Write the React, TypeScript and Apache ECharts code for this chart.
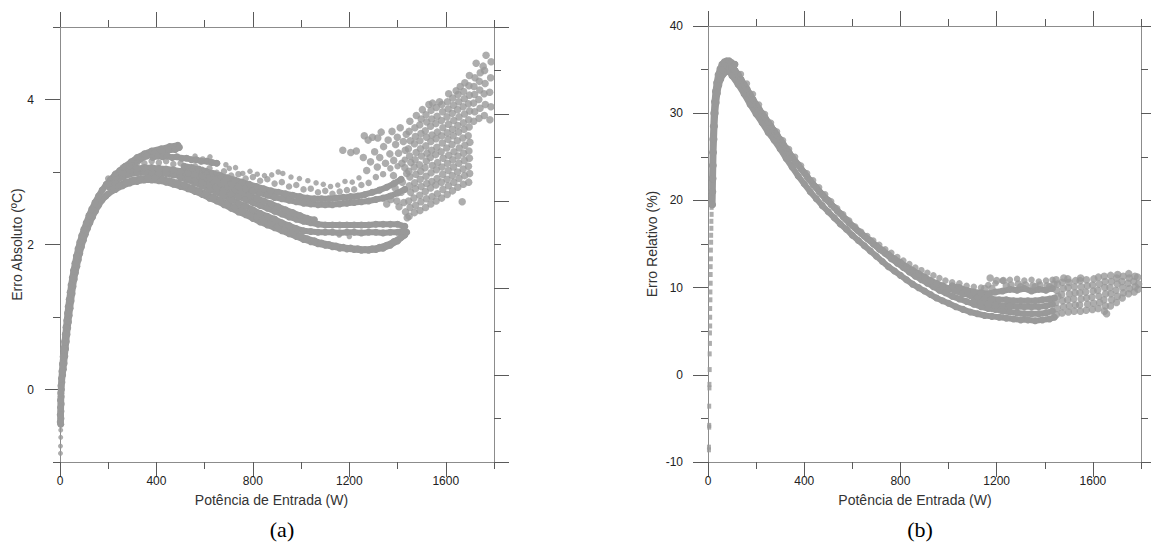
import React, { useEffect, useRef } from 'react';
import * as echarts from 'echarts';

// ---------- texts / ticks ----------
const X_LABEL = 'Potência de Entrada (W)';
const Y_LABEL_A = 'Erro Absoluto (ºC)';
const Y_LABEL_B = 'Erro Relativo (%)';
const PANEL_A = '(a)';
const PANEL_B = '(b)';
const xMajorTicks = [0, 400, 800, 1200, 1600];
const absMajorTicks = [0, 2, 4];

// ---------- (a) Erro Absoluto (x = W, y = ºC) ----------
const absStart = [[2,-0.88],[2,-0.78],[3,-0.66],[3,-0.56]];
const absRiseOuter = [[3,-0.48],[4,-0.4],[4,-0.3],[5,-0.2],[5,-0.1],[6,0],[8,0.1],[11,0.2],[14,0.28],[17,0.36],[20,0.46],[23,0.56],[26,0.66],[29,0.76],[32,0.85],[35,0.93],[38,1.02],[42,1.12],[46,1.22],[50,1.32],[54,1.42],[59,1.52],[64,1.61],[70,1.7],[76,1.79],[82,1.88],[89,1.97],[97,2.06],[105,2.14],[114,2.22],[124,2.3],[135,2.38],[147,2.46],[160,2.54],[174,2.61],[190,2.67]];
const absRiseInner = [[1,-0.45],[1,-0.35],[2,-0.25],[2,-0.15],[3,-0.05],[4,0.05],[6,0.15],[8,0.25],[10,0.35],[13,0.45],[16,0.56],[19,0.66],[22,0.76],[25,0.86],[28,0.95],[31,1.05],[34,1.14],[38,1.24],[42,1.34],[46,1.44],[51,1.54],[56,1.64],[62,1.74],[68,1.84],[75,1.94],[82,2.03],[90,2.12],[99,2.21],[109,2.3],[120,2.4],[132,2.49],[145,2.58],[160,2.67],[175,2.75],[192,2.83],[210,2.9],[228,2.96],[248,3.02],[270,3.08],[295,3.14],[320,3.2],[350,3.25],[380,3.29],[420,3.32],[455,3.35],[489,3.37]];
const absTop2 = [[300,3.09],[330,3.17],[360,3.22],[390,3.26],[420,3.28],[450,3.3],[478,3.31],[495,3.34]];
const absT2 = [[385,3.2],[405,3.22],[425,3.21],[445,3.22],[465,3.2],[485,3.21],[505,3.19],[525,3.19],[545,3.17],[565,3.17],[585,3.15],[610,3.15],[630,3.13],[650,3.12]];
const absL = [[190,2.67],[200,2.7],[230,2.76],[260,2.81],[290,2.85],[320,2.87],[350,2.89],[380,2.89],[410,2.88],[440,2.86],[470,2.83],[500,2.8],[530,2.77],[560,2.73],[590,2.69],[620,2.64],[650,2.6],[680,2.55],[710,2.5],[740,2.45],[770,2.41],[800,2.36],[830,2.31],[860,2.27],[890,2.23],[920,2.19],[950,2.15],[980,2.11],[1010,2.07],[1040,2.04],[1070,2.01],[1100,1.99],[1130,1.97],[1160,1.95],[1190,1.94],[1220,1.93],[1250,1.92],[1280,1.92],[1310,1.93],[1340,1.95],[1370,1.99],[1400,2.05],[1430,2.13]];
const absLb = [[215,2.76],[245,2.82],[275,2.86],[305,2.89],[335,2.91],[365,2.92],[395,2.92],[425,2.9],[455,2.88],[485,2.85],[515,2.82],[545,2.78],[575,2.74],[605,2.7],[635,2.65],[665,2.61],[695,2.56],[725,2.51],[755,2.47],[785,2.42],[815,2.38],[845,2.33],[875,2.29],[905,2.25],[935,2.21],[965,2.17],[995,2.12],[1025,2.08],[1055,2.05],[1085,2.02],[1115,2],[1145,1.98],[1175,1.96],[1205,1.95],[1235,1.94],[1265,1.93],[1295,1.94],[1325,1.96],[1355,1.99],[1385,2.04],[1415,2.1],[1438,2.17]];
const absL3 = [[500,2.92],[530,2.89],[560,2.85],[590,2.81],[620,2.76],[650,2.72],[680,2.67],[710,2.62],[740,2.57],[770,2.53],[800,2.48],[830,2.43],[860,2.39],[890,2.35],[920,2.3],[950,2.26],[980,2.22],[1010,2.19],[1040,2.18],[1070,2.17],[1100,2.17],[1130,2.17],[1160,2.16],[1190,2.17],[1220,2.17],[1250,2.16],[1280,2.17],[1310,2.17],[1340,2.16],[1370,2.17],[1400,2.17],[1425,2.19]];
const absM2 = [[200,2.8],[230,2.88],[260,2.93],[290,2.97],[320,2.99],[350,3],[380,3],[410,2.99],[440,2.98],[470,2.96],[500,2.94],[530,2.92],[560,2.89],[590,2.86],[620,2.82],[650,2.78],[680,2.74],[710,2.7],[740,2.66],[770,2.62],[800,2.58],[830,2.54],[860,2.5],[890,2.46],[920,2.42],[950,2.38],[980,2.35],[1010,2.32],[1040,2.3],[1070,2.28],[1100,2.27],[1130,2.27],[1160,2.27],[1190,2.27],[1220,2.27],[1250,2.27],[1280,2.27],[1310,2.28],[1340,2.28],[1370,2.28],[1400,2.28],[1430,2.25]];
const absM2b = [[515,3],[545,2.98],[575,2.95],[605,2.92],[635,2.88],[665,2.84],[695,2.8],[725,2.76],[755,2.72],[785,2.68],[815,2.64],[845,2.6],[875,2.56],[905,2.52],[935,2.48],[965,2.44],[995,2.4],[1025,2.36],[1055,2.34]];
const absM1 = [[200,2.84],[230,2.93],[260,2.99],[290,3.03],[320,3.05],[350,3.06],[380,3.06],[410,3.05],[440,3.04],[470,3.03],[500,3.01],[530,2.99],[560,2.97],[590,2.95],[620,2.92],[650,2.89],[680,2.86],[710,2.83],[740,2.8],[770,2.77],[800,2.74],[830,2.71],[860,2.68],[890,2.65],[920,2.63],[950,2.61],[980,2.59],[1010,2.57],[1040,2.56],[1070,2.55],[1100,2.55],[1130,2.55],[1160,2.56],[1190,2.57],[1220,2.58],[1250,2.59],[1280,2.6],[1310,2.62],[1340,2.64],[1370,2.67],[1400,2.71],[1430,2.76]];
const absM1b = [[515,3.08],[545,3.06],[575,3.04],[605,3.01],[635,2.98],[665,2.95],[695,2.92],[725,2.89],[755,2.86],[785,2.83],[815,2.8],[845,2.77],[875,2.74],[905,2.72],[935,2.7],[965,2.68],[995,2.66],[1025,2.64],[1055,2.63],[1085,2.63],[1115,2.63],[1145,2.64],[1175,2.65],[1205,2.66],[1235,2.67],[1265,2.69],[1295,2.72],[1325,2.75],[1355,2.79],[1385,2.84],[1415,2.9]];
const absU = [[200,2.91],[230,2.98],[260,3.06],[290,3.08],[320,3.13],[350,3.12],[380,3.15],[410,3.13],[440,3.15],[470,3.11],[500,3.12],[530,3.07],[560,3.08],[590,3.03],[620,3.05],[650,2.99],[680,3.01],[710,2.95],[740,2.97],[770,2.91],[800,2.93],[830,2.88],[860,2.9],[890,2.84],[920,2.86],[950,2.8],[980,2.82],[1010,2.76],[1040,2.77],[1070,2.72],[1100,2.74],[1130,2.7],[1160,2.73],[1190,2.75],[1220,2.76],[1250,2.82],[1280,2.85],[1310,2.93],[1340,2.97],[1370,3.05],[1400,3.08],[1430,3.17]];
const absSparse = [[560,3.22],[592,3.18],[622,3.21],[654,3.12],[688,3.1],[702,3.05],[728,3.06],[758,2.98],[788,3.01],[818,2.97],[848,2.95],[878,2.96],[905,3],[924,2.98],[958,2.93],[993,2.91],[1028,2.88],[1062,2.85],[1092,2.83],[1122,2.8],[1152,2.82],[1182,2.87],[1212,2.86],[1240,2.92],[1158,2.13],[1200,2.11]];
const absCloud = [
  [1173,3.3],[1206,3.27],[1229,3.29],[1262,3.5],[1278,3.44],[1296,3.48],[1318,3.47],[1332,3.55],[1258,3.2],[1272,3.02],[1288,3.14],[1305,3.28],[1316,3.07],[1326,3.2],[1342,3.35],[1350,3.12],[1361,3.44],[1368,3.25],[1377,3.56],[1384,3.16],[1392,3.38],[1399,3.48],[1404,3.26],[1411,3.61],[1418,3.12],[1424,3.42],[1432,3.3],[1436,3.52],[1383,2.95],[1397,2.6],[1406,2.52],[1415,2.72],[1426,2.58],[1433,2.45],[1440,2.37],[1355,2.56],[1372,2.62],[1390,2.78],[1420,2.86],[1438,2.98],[1430,3.06],
  [1448,2.39],[1452,2.51],[1446,2.6],[1454,2.72],[1449,2.81],[1451,2.93],[1447,3.01],[1455,3.13],[1450,3.22],[1445,3.32],[1453,3.43],[1448,3.56],[1451,3.7],
  [1470,2.44],[1475,2.54],[1468,2.64],[1474,2.77],[1471,2.85],[1476,2.97],[1469,3.07],[1473,3.17],[1477,3.27],[1470,3.39],[1474,3.49],[1472,3.61],[1478,3.78],
  [1493,2.47],[1497,2.59],[1492,2.68],[1498,2.8],[1494,2.9],[1496,3.01],[1491,3.1],[1499,3.22],[1495,3.32],[1493,3.43],[1497,3.53],[1492,3.65],[1498,3.73],[1503,3.86],
  [1516,2.51],[1520,2.63],[1515,2.73],[1521,2.84],[1518,2.94],[1514,3.06],[1519,3.15],[1522,3.26],[1517,3.36],[1520,3.48],[1515,3.57],[1521,3.69],[1518,3.79],[1530,3.93],
  [1538,2.56],[1543,2.66],[1537,2.78],[1542,2.87],[1539,2.99],[1544,3.09],[1536,3.2],[1541,3.3],[1538,3.42],[1543,3.51],[1537,3.63],[1542,3.73],[1539,3.85],[1545,3.95],
  [1560,2.6],[1565,2.7],[1559,2.82],[1564,2.91],[1561,3.03],[1566,3.13],[1558,3.24],[1563,3.34],[1560,3.46],[1565,3.55],[1559,3.67],[1564,3.77],[1561,3.89],[1574,3.97],
  [1583,2.64],[1588,2.76],[1582,2.86],[1587,2.97],[1584,3.07],[1589,3.19],[1581,3.28],[1586,3.4],[1583,3.5],[1588,3.61],[1582,3.71],[1587,3.83],[1584,3.93],
  [1606,2.69],[1611,2.81],[1605,2.9],[1610,3.02],[1607,3.12],[1612,3.23],[1604,3.33],[1609,3.45],[1606,3.54],[1611,3.66],[1605,3.76],[1610,3.87],[1607,3.97],[1612,4.08],
  [1628,2.74],[1633,2.86],[1627,2.95],[1632,3.07],[1629,3.17],[1634,3.28],[1626,3.38],[1631,3.5],[1628,3.59],[1633,3.71],[1627,3.81],[1632,3.92],[1629,4.02],[1643,4.12],
  [1650,2.79],[1655,2.91],[1649,3],[1654,3.12],[1651,3.22],[1656,3.33],[1648,3.43],[1653,3.55],[1650,3.64],[1655,3.76],[1649,3.86],[1654,3.97],[1651,4.07],[1660,4.18],
  [1668,2.59],[1673,2.83],[1678,2.95],[1672,3.04],[1677,3.16],[1674,3.26],[1679,3.37],[1671,3.47],[1676,3.59],[1673,3.68],[1678,3.8],[1672,3.9],[1677,4.01],[1674,4.11],[1679,4.23],
  [1695,2.86],[1699,2.98],[1694,3.08],[1698,3.19],[1696,3.29],[1700,3.41],[1693,3.5],[1697,3.62],[1695,3.72],[1699,3.84],[1694,3.94],[1698,4.06],[1696,4.19],[1698,4.33],
  [1716,3.7],[1720,3.83],[1715,3.95],[1719,4.07],[1717,4.18],[1721,4.3],[1726,4.5],
  [1738,3.74],[1742,3.88],[1737,4],[1741,4.13],[1739,4.25],[1743,4.37],[1755,4.46],
  [1760,3.78],[1764,3.93],[1759,4.08],[1763,4.22],[1761,4.4],[1767,4.61],
  [1783,3.72],[1787,3.9],[1782,4.1],[1786,4.3],[1788,4.52]
];

// ---------- (b) Erro Relativo (x = W, y = %) ----------
const relStart = [[4,-8.6],[4,-8.3],[5,-6],[5,-5.8],[5,-3.6],[6,-1.5],[6,-1.1],[7,0.6],[7,2.4],[8,3.6],[8,4.8],[9,5.6],[9,6.6],[9,7.6],[10,8.6],[10,9.5],[11,10.5],[11,11.5],[11,12.4],[12,13.3],[12,14.3],[13,15.2],[13,16],[14,16.8],[14,17.6],[15,18.4],[15,19.2]];
const relRiseA = [[16,19.5],[17,21],[17,22.5],[18,24],[19,25.5],[20,27],[22,28.5],[24,30],[27,31.3],[31,32.5],[36,33.5],[42,34.4],[50,35.1],[58,35.6],[68,35.9],[78,36],[88,36],[98,35.8],[108,35.5],[112,35.6]];
const relRiseB = [[19,19.5],[20,21],[21,22.5],[22,24],[23,25.5],[25,27],[27,28.5],[30,30],[34,31.2],[39,32.3],[45,33.2],[53,33.9],[62,34.4],[72,34.7],[82,34.8],[92,34.7],[100,34.3]];
const relPeak = [[60,35],[70,35.3],[80,35.4],[90,35.4],[100,35.2],[112,34.9]];
const relR1 = [[100,34.3],[125,33.3],[150,32.2],[175,31],[200,29.9],[225,28.9],[250,27.8],[275,26.9],[300,25.9],[325,24.8],[350,23.8],[375,22.8],[400,21.9],[425,21],[450,20.2],[475,19.4],[500,18.7],[525,18],[550,17.3],[575,16.7],[600,16],[625,15.4],[650,14.8],[675,14.2],[700,13.6],[725,13],[750,12.4],[775,11.9],[800,11.4],[825,10.9],[850,10.4],[875,10],[900,9.6],[925,9.2],[950,8.8],[975,8.5],[1000,8.2],[1030,7.8],[1060,7.5],[1090,7.2],[1120,7],[1150,6.8],[1180,6.7],[1210,6.6],[1240,6.5],[1270,6.4],[1300,6.3],[1330,6.3],[1360,6.2],[1390,6.3],[1420,6.4],[1440,6.6]];
const relR2 = [[112,34.9],[137,33.9],[162,32.8],[187,31.6],[212,30.5],[237,29.5],[262,28.5],[287,27.5],[312,26.5],[337,25.5],[362,24.5],[387,23.6],[412,22.7],[437,21.8],[462,21],[487,20.2],[512,19.5],[537,18.8],[562,18.1],[587,17.4],[612,16.8],[637,16.2],[662,15.6],[687,15],[712,14.4],[737,13.9],[762,13.3],[787,12.8],[812,12.3],[837,11.8],[862,11.3],[887,10.9],[912,10.5],[937,10.1],[962,9.7],[987,9.4],[1015,9],[1045,8.7],[1075,8.4],[1105,8.1],[1135,7.8],[1165,7.6],[1195,7.5],[1225,7.3],[1255,7.2],[1285,7.1],[1315,7],[1345,7],[1375,7],[1405,7.1],[1432,7.3]];
const relR2b = [[1105,8.5],[1135,8.3],[1165,8.1],[1195,8],[1225,7.9],[1255,7.9],[1285,7.8],[1315,7.8],[1345,7.8],[1375,7.8],[1405,7.9],[1432,8.1]];
const relR3 = [[100,35.3],[125,34.5],[150,33.3],[175,32.2],[200,31],[225,30],[250,29],[275,28],[300,27],[325,26],[350,25],[375,24.1],[400,23.2],[425,22.3],[450,21.5],[475,20.7],[500,20],[525,19.2],[550,18.5],[575,17.8],[600,17.1],[625,16.5],[650,15.9],[675,15.4],[700,14.8],[725,14.3],[750,13.8],[775,13.3],[800,12.9],[825,12.4],[850,12],[875,11.6],[900,11.2],[925,10.8],[950,10.5],[975,10.2],[1000,9.9],[1030,9.6],[1060,9.3],[1090,9.1],[1120,8.9],[1150,8.8],[1180,8.7],[1210,8.6],[1240,8.6],[1270,8.5],[1300,8.5],[1330,8.5],[1360,8.5],[1390,8.6],[1420,8.7],[1440,8.8]];
const relR3b = [[1015,10.2],[1045,10],[1075,9.7],[1105,9.5],[1135,9.4],[1165,9.3],[1195,9.5],[1225,9.6],[1255,9.8],[1285,9.7],[1315,9.9],[1345,9.6],[1375,9.8],[1405,9.7],[1432,9.9]];
const relR4 = [[112,35.6],[137,34.5],[162,33.4],[187,32.2],[212,31],[237,29.9],[262,28.9],[287,27.9],[312,26.9],[337,25.9],[362,25],[387,24],[412,23.1],[437,22.3],[462,21.5],[487,20.7],[512,19.9],[537,19.1],[562,18.4],[587,17.7],[612,17],[637,16.4],[662,15.9],[687,15.4],[712,14.9],[737,14.4],[762,14],[787,13.5],[812,13.1],[837,12.7],[862,12.3],[887,12],[912,11.7],[937,11.4],[962,11.1],[987,10.8],[1015,10.6],[1045,10.5],[1075,10.2],[1105,10.1],[1135,10],[1165,10.3],[1195,10.5],[1225,10.8],[1255,10.9],[1285,11],[1315,10.8],[1345,10.9],[1375,10.7],[1405,10.8],[1432,10.9]];
const relNoise = [
  [1173,11.1],[1200,10.8],[1228,10.8],[1260,10.3],[1290,10.4],[1320,10.3],[1350,10.2],[1380,10.3],[1410,10.2],[1438,10.4],[1150,9.9],[1180,9.9],[1240,10.2],[1300,10.1],[1360,10.1],[1420,10.1],
  [1448,6.9],[1452,7.6],[1446,8.3],[1455,9],[1449,9.7],[1453,10.4],[1447,10.9],
  [1472,7.1],[1478,7.8],[1474,8.5],[1470,9.2],[1477,9.9],[1473,10.6],[1479,11.1],
  [1498,7.2],[1502,7.9],[1495,8.6],[1503,9.3],[1497,10],[1501,10.6],[1496,11],
  [1522,7.3],[1527,8],[1520,8.7],[1526,9.4],[1523,10.1],[1528,10.8],
  [1548,7.3],[1545,8],[1551,8.7],[1546,9.4],[1552,10.1],[1547,10.8],[1549,11.1],
  [1572,7.4],[1578,8.1],[1574,8.8],[1570,9.5],[1577,10.2],[1573,10.9],
  [1598,7.5],[1603,8.2],[1596,8.9],[1601,9.6],[1599,10.3],[1604,11],
  [1622,7.6],[1628,8.3],[1625,9],[1620,9.7],[1627,10.4],[1623,11.2],
  [1648,7.3],[1657,7],[1652,7.9],[1646,8.6],[1653,9.3],[1649,10],[1651,10.7],[1647,11.3],
  [1673,7.9],[1678,8.6],[1675,9.3],[1671,10],[1677,10.7],[1674,11.4],
  [1698,8.3],[1702,9],[1696,9.7],[1701,10.4],[1699,11.1],[1703,11.5],
  [1722,8.8],[1727,9.4],[1724,10],[1721,10.7],[1726,11.3],
  [1748,9.3],[1752,9.9],[1746,10.5],[1751,11.1],[1749,11.6],
  [1772,9.5],[1776,10.1],[1770,10.7],[1775,11.3],
  [1788,9.8],[1790,10.4],[1786,11.2]
];

// ---------- styling ----------
const DOT = '#999999';
const LINE = '#8c8c8c';
const TICK = '#5a5a5a';
const SANS = 'Liberation Sans, Arial, sans-serif';
const SERIF = 'Liberation Serif, Times New Roman, serif';

function axis(gridIndex: number, position: string, min: number, max: number, opts: any) {
  return {
    type: 'value',
    gridIndex,
    position,
    min,
    max,
    interval: opts.interval,
    splitLine: { show: false },
    axisLine: { show: !!opts.line, onZero: false, lineStyle: { color: LINE, width: 1 } },
    axisTick: {
      show: true,
      inside: false,
      length: opts.len,
      lineStyle: { color: TICK, width: 1 },
      ...(opts.ticks ? { customValues: opts.ticks } : {}),
    },
    axisLabel: opts.labels
      ? {
          show: true,
          margin: opts.margin,
          color: '#222',
          fontSize: 12,
          fontFamily: SANS,
          formatter: (v: number) => String(v),
          ...(opts.ticks ? { customValues: opts.ticks } : {}),
        }
      : { show: false },
    ...(opts.name
      ? {
          name: opts.name,
          nameLocation: 'middle',
          nameGap: opts.nameGap,
          nameTextStyle: { color: '#333', fontSize: 14, fontFamily: SANS, padding: opts.namePad || 0 },
        }
      : {}),
  };
}

function scatter(data: number[][], grid: number, size: any, symbol = 'circle') {
  const idx = grid === 0 ? 0 : 4;
  return {
    type: 'scatter',
    xAxisIndex: idx,
    yAxisIndex: idx,
    data,
    symbol,
    symbolSize: size,
    itemStyle: { color: DOT },
    silent: true,
    z: 3,
  };
}

// a dense run of measurements: points joined so that the run reads as a solid trace
function band(data: number[][], grid: number, width: number) {
  const idx = grid === 0 ? 0 : 4;
  return {
    type: 'line',
    xAxisIndex: idx,
    yAxisIndex: idx,
    data,
    symbol: 'circle',
    symbolSize: width + 1,
    showSymbol: true,
    lineStyle: { color: DOT, width, cap: 'round', join: 'round' },
    itemStyle: { color: DOT },
    silent: true,
    z: 2,
  };
}

function buildOption() {
  const absBands = [absRiseOuter, absRiseInner, absTop2, absT2, absL, absLb, absL3, absM2, absM2b, absM1, absM1b];
  const relBands = [relRiseA, relRiseB, relPeak, relR1, relR2, relR2b, relR3, relR3b];
  return {
    animation: false,
    backgroundColor: '#ffffff',
    grid: [
      { left: 60, top: 27, width: 434, height: 435 },
      { left: 708, top: 26, width: 433, height: 436 },
    ],
    xAxis: [
      axis(0, 'bottom', 0, 1800, { interval: 200, len: 7, line: true }),
      axis(0, 'bottom', 0, 1800, { interval: 400, len: 15, ticks: xMajorTicks, labels: true, margin: 13, name: X_LABEL, nameGap: 31, namePad: [0, 11, 0, 0] }),
      axis(0, 'top', 0, 1800, { interval: 200, len: 7, line: true }),
      axis(0, 'top', 0, 1800, { interval: 400, len: 15, ticks: xMajorTicks }),
      axis(1, 'bottom', 0, 1800, { interval: 200, len: 7, line: true }),
      axis(1, 'bottom', 0, 1800, { interval: 400, len: 15, ticks: xMajorTicks, labels: true, margin: 13, name: X_LABEL, nameGap: 31, namePad: [0, 19, 0, 0] }),
      axis(1, 'top', 0, 1800, { interval: 200, len: 7, line: true }),
      axis(1, 'top', 0, 1800, { interval: 400, len: 15, ticks: xMajorTicks }),
    ],
    yAxis: [
      axis(0, 'left', -1, 5, { interval: 1, len: 7, line: true, name: Y_LABEL_A, nameGap: 36 }),
      axis(0, 'left', -1, 5, { interval: 1, len: 15, ticks: absMajorTicks, labels: true, margin: 26 }),
      axis(0, 'right', 0, 10, { interval: 1, len: 7, line: true }),
      axis(0, 'right', 0, 10, { interval: 2, len: 15 }),
      axis(1, 'left', -10, 40, { interval: 5, len: 7, line: true, name: Y_LABEL_B, nameGap: 49 }),
      axis(1, 'left', -10, 40, { interval: 10, len: 15, labels: true, margin: 25 }),
      axis(1, 'right', -10, 40, { interval: 5, len: 7, line: true }),
      axis(1, 'right', -10, 40, { interval: 10, len: 15 }),
    ],
    series: [
      scatter(absStart, 0, 5),
      ...absBands.map((d) => band(d, 0, 6)),
      scatter(absU, 0, 6.5),
      scatter(absSparse, 0, 5.5),
      scatter(absCloud, 0, 7.5),
      scatter(relStart, 1, [4, 5], 'rect'),
      ...relBands.map((d) => band(d, 1, 6)),
      scatter(relR4, 1, 6.5),
      scatter(relNoise, 1, 7.5),
    ],
    graphic: [
      { type: 'text', x: 282, y: 529, style: { text: PANEL_A, font: '22px ' + SERIF, fill: '#000', textAlign: 'center', textVerticalAlign: 'middle' } },
      { type: 'text', x: 920, y: 529, style: { text: PANEL_B, font: '22px ' + SERIF, fill: '#000', textAlign: 'center', textVerticalAlign: 'middle' } },
    ],
  };
}

export default function App() {
  const ref = useRef<HTMLDivElement>(null);
  useEffect(() => {
    if (!ref.current) return;
    const chart = echarts.init(ref.current, null, { renderer: 'svg' });
    chart.setOption(buildOption() as any);
    return () => chart.dispose();
  }, []);
  return (
    <div
      ref={ref}
      style={{ position: 'absolute', left: 0, top: 0, width: 1151, height: 543, background: '#fff' }}
    />
  );
}
